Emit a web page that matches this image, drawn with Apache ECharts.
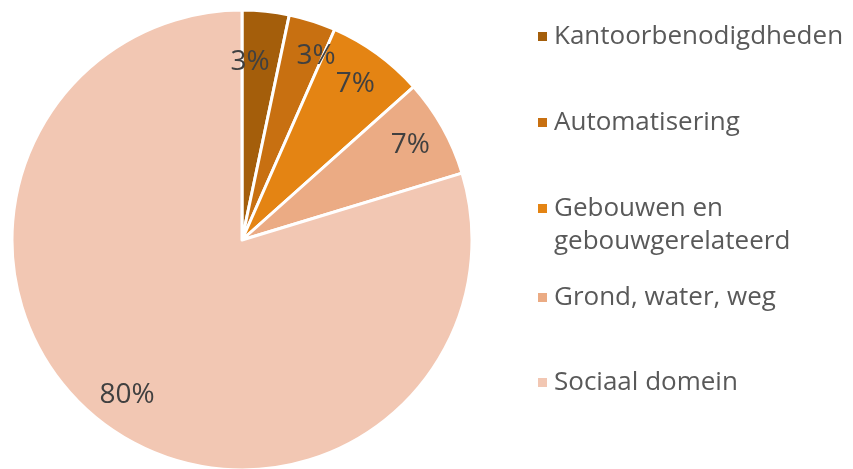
<!DOCTYPE html>
<html>
<head>
<meta charset="utf-8">
<script src="https://cdn.jsdelivr.net/npm/echarts@6/dist/echarts.min.js"></script>
<style>
  html, body { margin: 0; padding: 0; background: #fff; }
  #main { width: 853px; height: 469px; }
</style>
</head>
<body>
<div id="main"></div>
<script>
// categorieën en aandelen (procent)
var categories = ['Kantoorbenodigdheden', 'Automatisering', 'Gebouwen en gebouwgerelateerd', 'Grond, water, weg', 'Sociaal domein']
var shares = [3.3, 3.3, 6.8, 6.9, 79.7]
var colors = ['#A45E0B', '#C87011', '#E48413', '#EBAB84', '#F2C7B3']

var pieData = categories.map(function (name, i) {
  return { name: name, value: shares[i], itemStyle: { color: colors[i] } }
})

var font = '"Open Sans", "Noto Sans", sans-serif'
var legendTops = [20, 106, 159, 281, 366]
// de twee kleine labels iets uit elkaar schuiven (zoals in Excel)
var labelShift = [[-12, 14], [15, 0], [0, 0], [0, 0], [0, 0]]

var legends = categories.map(function (name, i) {
  return {
    orient: 'vertical',
    left: 536,
    top: legendTops[i],
    padding: 0,
    itemWidth: 11,
    itemHeight: 11,
    icon: 'rect',
    selectedMode: false,
    data: [{ name: name, itemStyle: { color: colors[i] } }],
    formatter: function (n) {
      if (n === 'Gebouwen en gebouwgerelateerd') return ' \nGebouwen en\ngebouwgerelateerd'
      return n
    },
    textStyle: { fontFamily: font, fontSize: 26, color: '#595959', lineHeight: 33, padding: [0, 0, 0, 1] }
  }
})

var myChart = echarts.init(document.getElementById('main'))
myChart.setOption({
  animation: false,
  legend: legends,
  series: [
    {
      type: 'pie',
      center: [242, 240],
      radius: [0, 230],
      startAngle: 90,
      clockwise: true,
      percentPrecision: 0,
      itemStyle: { borderColor: '#fff', borderWidth: 3 },
      label: { show: false },
      labelLine: { show: false },
      emphasis: { disabled: true },
      data: pieData
    },
    {
      // alleen voor de labels, iets verder naar buiten
      type: 'pie',
      center: [242, 240],
      radius: [150, 230],
      startAngle: 90,
      clockwise: true,
      percentPrecision: 0,
      avoidLabelOverlap: false,
      silent: true,
      itemStyle: { color: 'rgba(0,0,0,0)' },
      label: {
        show: true,
        position: 'inside',
        formatter: '{d}%',
        fontFamily: font,
        fontSize: 28,
        color: '#404040'
      },
      labelLayout: { hideOverlap: false },
      labelLine: { show: false },
      emphasis: { disabled: true },
      data: categories.map(function (name, i) {
        return { name: name, value: shares[i], label: { offset: labelShift[i] } }
      })
    }
  ]
})
</script>
</body>
</html>
